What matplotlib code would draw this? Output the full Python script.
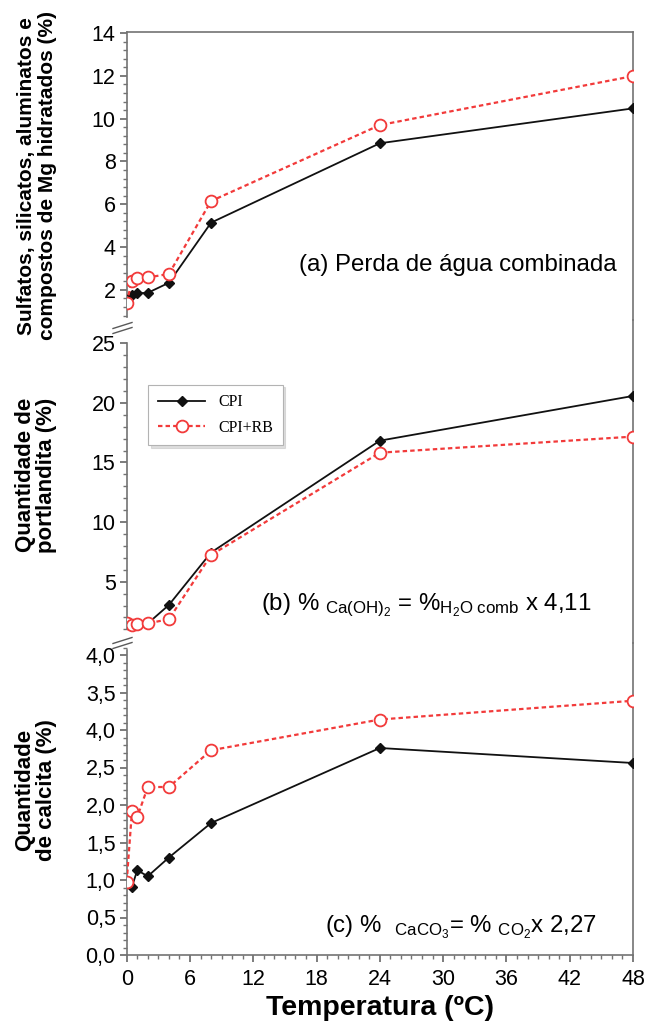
import matplotlib
matplotlib.use("Agg")
import matplotlib.pyplot as plt
from matplotlib.ticker import FixedLocator, FixedFormatter, MultipleLocator
from matplotlib.lines import Line2D

plt.rcParams['font.family'] = ['Liberation Sans', 'DejaVu Sans']
plt.rcParams['mathtext.fontset'] = 'custom'
plt.rcParams['mathtext.rm'] = 'Liberation Sans'
plt.rcParams['mathtext.it'] = 'Liberation Sans:italic'
plt.rcParams['mathtext.bf'] = 'Liberation Sans:bold'

# x values (hours, labelled as temperature in the source)
x_cpi = [0.5, 1, 2, 4, 8, 24, 48]
x_rb = [0, 0.5, 1, 2, 4, 8, 24, 48]

# (a) combined water loss
cpi_a = [1.76, 1.84, 1.86, 2.33, 5.14, 8.85, 10.48]
rb_a = [1.40, 2.43, 2.54, 2.58, 2.74, 6.15, 9.70, 11.99]

# (b) portlandite
cpi_b = [1.40, 1.45, 1.50, 3.05, 7.45, 16.83, 20.58]
rb_b = [1.51, 1.37, 1.43, 1.51, 1.85, 7.24, 15.82, 17.17]

# (c) calcite
cpi_c = [0.91, 1.13, 1.05, 1.30, 1.76, 2.76, 2.56]
rb_c = [0.98, 1.92, 1.84, 2.24, 2.24, 2.73, 3.14, 3.39]

x_ticks = [0, 6, 12, 18, 24, 30, 36, 42, 48]
c_ticks = [0, 0.5, 1.0, 1.5, 2.0, 2.5, 3.0, 3.5, 4.0]
c_ticklabels = ['0,0', '0,5', '1,0', '1,5', '2,0', '2,5', '4,0', '3,5', '4,0']

W, H = 652, 1027
fig = plt.figure(figsize=(W / 100, H / 100), dpi=100)

left = 126.7 / W
width = (633 - 126.7) / W
ax_a = fig.add_axes([left, 1 - 320 / H, width, 288 / H])
ax_b = fig.add_axes([left, 1 - 643 / H, width, 323 / H])
ax_c = fig.add_axes([left, 1 - 955 / H, width, 312 / H])

spine_col = '0.45'
red = '#f23a3a'
tick_fs = 15.5
note_fs = 17.3

for ax, cpi, rb in [(ax_a, cpi_a, rb_a), (ax_b, cpi_b, rb_b), (ax_c, cpi_c, rb_c)]:
    ax.plot(x_cpi, cpi, color='#111111', lw=1.3, marker='D', ms=5.5,
            label='CPI', zorder=3)
    ax.plot(x_rb, rb, color=red, lw=1.6, ls=(0, (2.0, 1.4)), marker='o',
            ms=8.5, mfc='white', mec=red, mew=1.3, label='CPI+RB', zorder=4)
    ax.set_xlim(0, 48)
    ax.xaxis.set_major_locator(FixedLocator(x_ticks))
    ax.xaxis.set_minor_locator(MultipleLocator(1))
    for s in ax.spines.values():
        s.set_color(spine_col)
        s.set_linewidth(1.2)
    ax.spines['top'].set_visible(False)
    ax.spines['bottom'].set_visible(False)
    ax.tick_params(axis='y', which='major', direction='out', length=5,
                   width=1.1, color='0.35', labelsize=tick_fs, pad=3)
    ax.tick_params(axis='y', which='minor', direction='out', length=3,
                   width=1, color='0.45')
    ax.tick_params(axis='x', which='both', bottom=False, labelbottom=False)
    ax.set_facecolor('none')

# panel a
ax_a.set_ylim(0.59, 14.05)
ax_a.yaxis.set_major_locator(FixedLocator([2, 4, 6, 8, 10, 12, 14]))
ax_a.yaxis.set_minor_locator(MultipleLocator(0.4))
ax_a.spines['top'].set_visible(True)
ax_a.spines['left'].set_bounds(0.75, 14.05)
ax_a.text((617 - 126.7) / 506.3, 0.19, '(a) Perda de água combinada',
          transform=ax_a.transAxes, ha='right', va='center', fontsize=note_fs)

# panel b
ax_b.set_ylim(-0.14, 26.95)
ax_b.yaxis.set_major_locator(FixedLocator([5, 10, 15, 20, 25]))
ax_b.yaxis.set_minor_locator(FixedLocator([v for v in range(1, 26)]))
ax_b.spines['left'].set_bounds(1.0, 25)
ax_b.text((591.7 - 126.7) / 506.3, (643 - 605) / 323,
          r'(b) % $_{\mathrm{Ca(OH)_2}}$ = %$_{\mathrm{H_2O\ comb}}$ x 4,11',
          transform=ax_b.transAxes, ha='right', va='center', fontsize=note_fs)
leg = ax_b.legend(loc='upper left', bbox_to_anchor=(0.042, 0.80),
                  borderaxespad=0, frameon=True, fancybox=False,
                  shadow={'color': '0.75'}, handlelength=3.0,
                  prop={'family': 'Liberation Serif', 'size': 11.5},
                  labelspacing=0.6, borderpad=0.6)
leg.get_frame().set_edgecolor('0.7')
leg.get_frame().set_linewidth(0.8)

# panel c
ax_c.set_ylim(0, 4.16)
ax_c.yaxis.set_major_locator(FixedLocator(c_ticks))
ax_c.yaxis.set_major_formatter(FixedFormatter(c_ticklabels))
ax_c.yaxis.set_minor_locator(MultipleLocator(0.1))
ax_c.spines['left'].set_bounds(0, 4.07)
ax_c.spines['bottom'].set_visible(True)
ax_c.tick_params(axis='x', which='major', bottom=True, labelbottom=True,
                 direction='out', length=5, width=1.1, color='0.35',
                 labelsize=tick_fs, pad=5)
ax_c.tick_params(axis='x', which='minor', bottom=True, direction='out',
                 length=3, width=1, color='0.45')
ax_c.text((596.7 - 126.7) / 506.3, (955 - 927) / 312,
          r'(c) %  $_{\mathrm{CaCO_3}}$= % $_{\mathrm{CO_2}}$x 2,27',
          transform=ax_c.transAxes, ha='right', va='center', fontsize=note_fs)
ax_c.set_xlabel('Temperatura (ºC)', fontsize=20.5, fontweight='bold', labelpad=4)

# y labels
fig.text(37 / W, 1 - 176 / H,
         'Sulfatos, silicatos, aluminatos e\ncompostos de Mg hidratados (%)',
         rotation=90, ha='center', va='center', fontsize=15,
         fontweight='bold', multialignment='center', linespacing=1.1)
fig.text(36 / W, 1 - 475 / H, 'Quantidade de\nportlandita (%)',
         rotation=90, ha='center', va='center', fontsize=16,
         fontweight='bold', multialignment='center', linespacing=1.05)
fig.text(36 / W, 1 - 790 / H, 'Quantidade\nde calcita (%)',
         rotation=90, ha='center', va='center', fontsize=16,
         fontweight='bold', multialignment='center', linespacing=1.05)

# axis break marks
for yc in [328, 643]:
    for off in [-2.5, 2.5]:
        y0 = 1 - (yc + off + 3) / H
        y1 = 1 - (yc + off - 3) / H
        fig.add_artist(Line2D([113 / W, 132 / W], [y0, y1], color='0.35',
                              lw=1.0, transform=fig.transFigure))

fig.savefig('out.png', dpi=100)
